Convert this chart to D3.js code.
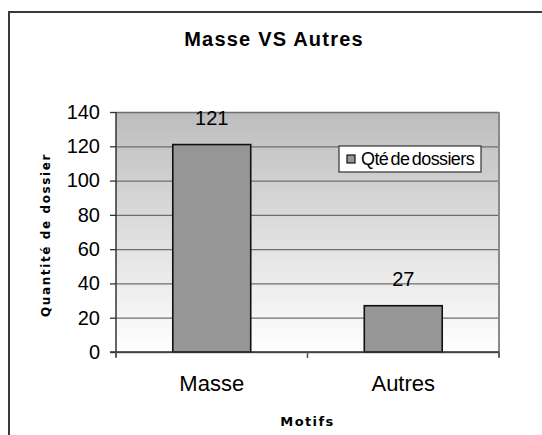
<!DOCTYPE html>
<html>
    <head>
        <meta charset="utf-8">
        <title>Masse VS Autres</title>
        <style>
            body { margin: 0; background: #ffffff; }
        </style>
    </head>

    <body>
        <div id="chart"></div>

        <script src="https://cdn.jsdelivr.net/npm/d3@7"></script>
        <script>
            var categories = ["Masse", "Autres"];
            var values = [121, 27];
            var yTicks = [0, 20, 40, 60, 80, 100, 120, 140];
            var seriesName = "Qté de dossiers";

            var w = 542, h = 435;
            var plot = { left: 116, right: 499, top: 112, bottom: 352 };

            var svg = d3.select("#chart").append("svg")
                .attr("width", w)
                .attr("height", h)
                .style("display", "block");

            // outer frame (runs off the right and bottom edges)
            svg.append("path")
                .attr("d", "M9,440V12H545")
                .attr("fill", "none")
                .attr("stroke", "#3a3a3a")
                .attr("stroke-width", 2);

            var grad = svg.append("defs").append("linearGradient")
                .attr("id", "bg")
                .attr("x1", 0).attr("y1", 0).attr("x2", 0).attr("y2", 1);
            grad.append("stop").attr("offset", "0%").attr("stop-color", "#bdbdbd");
            grad.append("stop").attr("offset", "100%").attr("stop-color", "#ffffff");

            var x = d3.scaleBand()
                .domain(categories)
                .range([plot.left, plot.right])
                .paddingInner(0.593)
                .paddingOuter(0.2965);

            var y = d3.scaleLinear()
                .domain([0, 140])
                .range([plot.bottom, plot.top]);

            // plot background
            svg.append("rect")
                .attr("x", plot.left)
                .attr("y", plot.top)
                .attr("width", plot.right - plot.left)
                .attr("height", plot.bottom - plot.top)
                .attr("fill", "url(#bg)");

            // grid lines
            svg.append("g")
                .attr("transform", "translate(" + plot.left + ",0)")
                .call(d3.axisLeft(y).tickValues(yTicks).tickSize(-(plot.right - plot.left)).tickFormat(""))
                .call(function(g) { g.select(".domain").remove(); })
                .selectAll("line")
                    .attr("stroke", "#6e6e6e")
                    .attr("stroke-width", 1.3);

            // right border of plot
            svg.append("line")
                .attr("x1", plot.right).attr("x2", plot.right)
                .attr("y1", plot.top).attr("y2", plot.bottom + 5)
                .attr("stroke", "#8a8a8a")
                .attr("stroke-width", 2);

            // bars
            svg.selectAll(".bar")
                .data(values)
                .enter().append("rect")
                    .attr("class", "bar")
                    .attr("x", function(d, i) { return x(categories[i]); })
                    .attr("y", function(d) { return y(d); })
                    .attr("width", x.bandwidth())
                    .attr("height", function(d) { return y(0) - y(d); })
                    .attr("fill", "#969696")
                    .attr("stroke", "#111111")
                    .attr("stroke-width", 1.6);

            // value labels
            svg.selectAll(".value-label")
                .data(values)
                .enter().append("text")
                    .attr("class", "value-label")
                    .text(function(d) { return d; })
                    .attr("x", function(d, i) { return x(categories[i]) + x.bandwidth() / 2; })
                    .attr("y", function(d) { return y(d) - 20; })
                    .attr("text-anchor", "middle")
                    .style("font-family", "Liberation Sans, Arial, sans-serif")
                    .style("font-size", "20px")
                    .style("fill", "#000");

            // y axis
            var yAxis = svg.append("g")
                .attr("transform", "translate(" + plot.left + ",0)")
                .call(d3.axisLeft(y).tickValues(yTicks).tickSize(6).tickPadding(10));
            yAxis.select(".domain")
                .attr("stroke", "#333")
                .attr("stroke-width", 1.5)
                .attr("d", "M0," + plot.top + "V" + (plot.bottom + 5));
            yAxis.selectAll(".tick line").attr("stroke", "#333").attr("stroke-width", 1.3);
            yAxis.selectAll("text")
                .style("font-family", "Liberation Sans, Arial, sans-serif")
                .style("font-size", "20px")
                .style("fill", "#000");

            // x axis line and boundary ticks
            var xLine = svg.append("g");
            xLine.append("line")
                .attr("x1", plot.left - 6).attr("x2", plot.right)
                .attr("y1", y(0)).attr("y2", y(0))
                .attr("stroke", "#333")
                .attr("stroke-width", 1.5);
            xLine.selectAll(".xtick")
                .data(d3.range(categories.length + 1))
                .enter().append("line")
                    .attr("class", "xtick")
                    .attr("x1", function(i) { return plot.left + i * x.step(); })
                    .attr("x2", function(i) { return plot.left + i * x.step(); })
                    .attr("y1", y(0))
                    .attr("y2", y(0) + 6)
                    .attr("stroke", "#555")
                    .attr("stroke-width", 1.5);

            // x category labels
            var xAxis = svg.append("g")
                .attr("transform", "translate(0," + y(0) + ")")
                .call(d3.axisBottom(x).tickSize(0).tickPadding(23));
            xAxis.select(".domain").remove();
            xAxis.selectAll("text")
                .style("font-family", "Liberation Sans, Arial, sans-serif")
                .style("font-size", "22px")
                .style("fill", "#000");

            // title
            svg.append("text")
                .text("Masse VS Autres")
                .attr("x", 274)
                .attr("y", 46)
                .attr("text-anchor", "middle")
                .style("font-family", "Liberation Sans, Arial, sans-serif")
                .style("font-weight", "bold")
                .style("font-size", "20px")
                .style("letter-spacing", "1.2px")
                .style("fill", "#000");

            // y axis title
            svg.append("text")
                .text("Quantité de dossier")
                .attr("transform", "translate(50,235) rotate(-90)")
                .attr("text-anchor", "middle")
                .style("font-family", "DejaVu Sans, sans-serif")
                .style("font-weight", "bold")
                .style("font-size", "12px")
                .style("letter-spacing", "1.6px")
                .style("fill", "#000");

            // x axis title
            svg.append("text")
                .text("Motifs")
                .attr("x", (plot.left + plot.right) / 2)
                .attr("y", 426)
                .attr("text-anchor", "middle")
                .style("font-family", "DejaVu Sans, sans-serif")
                .style("font-weight", "bold")
                .style("font-size", "13px")
                .style("letter-spacing", "1.4px")
                .style("fill", "#000");

            // legend
            var legend = svg.append("g").attr("transform", "translate(339,146)");
            legend.append("rect")
                .attr("width", 142)
                .attr("height", 26)
                .attr("fill", "#ffffff")
                .attr("stroke", "#333")
                .attr("stroke-width", 1.2);
            legend.append("rect")
                .attr("x", 8)
                .attr("y", 9)
                .attr("width", 8)
                .attr("height", 8)
                .attr("fill", "#969696")
                .attr("stroke", "#111")
                .attr("stroke-width", 1.2);
            legend.append("text")
                .text(seriesName)
                .attr("x", 22)
                .attr("y", 19)
                .style("font-family", "Liberation Sans, Arial, sans-serif")
                .style("font-size", "18px")
                .style("letter-spacing", "-0.6px")
                .style("word-spacing", "-2px")
                .style("fill", "#000");
        </script>
    </body>
</html>
